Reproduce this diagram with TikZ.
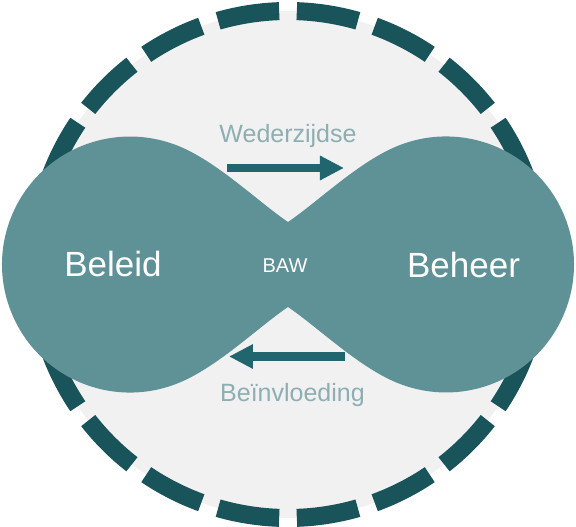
\documentclass[tikz,border=0pt]{standalone}
\usepackage{fontspec}
\setmainfont{Liberation Sans}
\usetikzlibrary{arrows.meta}

\definecolor{ringteal}{HTML}{1A545B}
\definecolor{lobeteal}{HTML}{5F9296}
\definecolor{arrowteal}{HTML}{21666E}
\definecolor{paleteal}{HTML}{8DAEB2}
\definecolor{bggray}{HTML}{F1F1F1}

\tikzset{
  ring/.style={ringteal, line width=18pt},
  lobe/.style={fill=lobeteal},
  bigtext/.style={white, font=\fontsize{35}{40}\selectfont, anchor=base},
  smalltext/.style={paleteal, font=\fontsize{25}{30}\selectfont, anchor=base},
  flow/.style={arrowteal, line width=8.5pt, -{Triangle[length=24pt,width=23pt]}}
}

\begin{document}
\begin{tikzpicture}[x=1pt,y=1pt]
\useasboundingbox (-288,-262.5) rectangle (288,264.5);
% background disc and dashed ring
\fill[bggray] (0,0) circle[radius=253.5pt];
\foreach \a in {0,18,...,342} {
    \draw[ring] (\a+2:253.5pt) arc[start angle=\a+2, end angle=\a+16, radius=253.5pt];
}
% the two lobes with the narrow waist
\fill[lobe] (-114.2,120.3) .. controls (-74,106) and (-31,63.5) .. (0,42.5)
  .. controls (31,63.5) and (74,106) .. (114.2,120.3)
  arc[start angle=110, end angle=-110, radius=128pt]
  .. controls (74,-106) and (31,-63.5) .. (0,-42.5)
  .. controls (-31,-63.5) and (-74,-106) .. (-114.2,-120.3)
  arc[start angle=-70, end angle=-290, radius=128pt] -- cycle;
% labels
\node[bigtext] (beleid) at (-175,-12.5) {Beleid};
\node[bigtext] (beheer) at (175.5,-13) {Beheer};
\node[white, font=\fontsize{20}{24}\selectfont, anchor=base] (baw) at (-3,-8.5) {BAW};
\node[smalltext] (wederzijdse) at (0,122) {Wederzijdse};
\node[smalltext] (beinvloeding) at (4.5,-137.5) {Beïnvloeding};
% arrows
\coordinate (wzFrom) at (-61,96.5);
\coordinate (wzTo) at (56,96.5);
\coordinate (bvFrom) at (57,-92);
\coordinate (bvTo) at (-59,-92);
\draw[flow] (wzFrom) -- (wzTo);
\draw[flow] (bvFrom) -- (bvTo);
\end{tikzpicture}
\end{document}
